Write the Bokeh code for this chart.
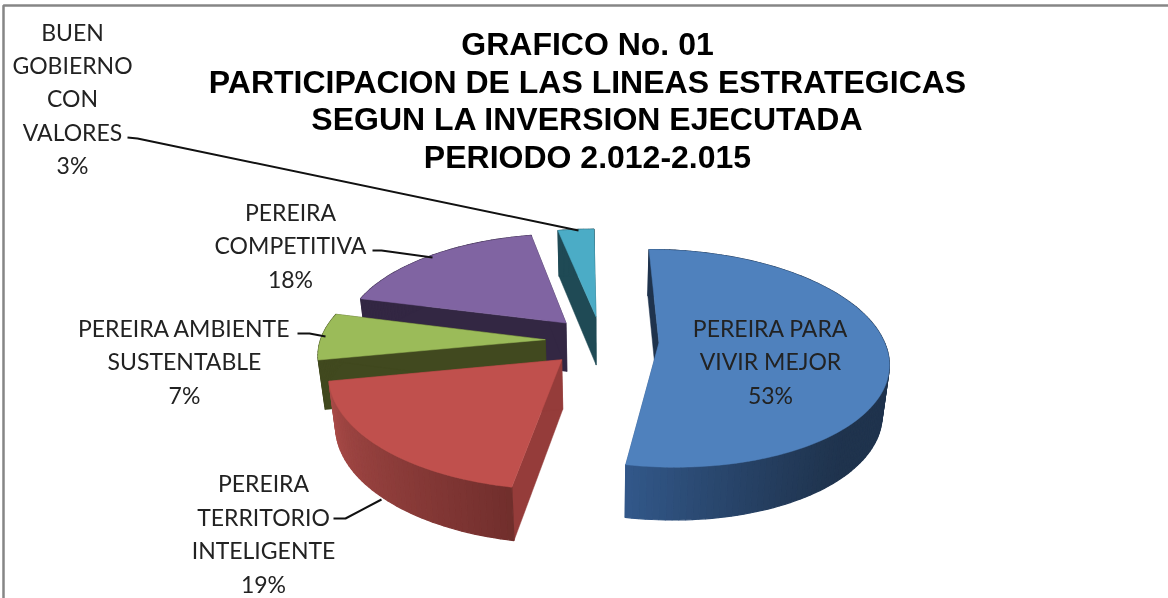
import math
from bokeh.plotting import figure
from bokeh.models import Range1d
from bokeh.core.properties import value
from bokeh.embed import file_html
from bokeh.resources import INLINE

TITLE = "GRAFICO No. 01\nPARTICIPACION DE LAS LINEAS ESTRATEGICAS\nSEGUN LA INVERSION EJECUTADA\nPERIODO 2.012-2.015"
SERIES = ["PEREIRA PARA\nVIVIR MEJOR", "PEREIRA\nTERRITORIO\nINTELIGENTE", "PEREIRA AMBIENTE\nSUSTENTABLE",
          "PEREIRA\nCOMPETITIVA", "BUEN\nGOBIERNO\nCON\nVALORES"]
VALUES = [53, 19, 7, 18, 3]
TOP_COLORS = ["#4f81bd", "#c0504d", "#9bbb59", "#8064a2", "#4bacc6"]
CUT_COLORS = ["#1f334d", "#953c3a", "#41491f", "#332743", "#1f4a55"]

# projection of the tilted pie, in page pixels
CX, CY, R, Q, K, DEPTH = 601, 340, 225, 106, 0.14, 49
EXPLODE = [0.255, 0.25, 0.25, 0.232, 0.232]
LABEL_CENTERS = [(770, 361), (263, 533), (184, 361), (290, 245), (72, 98)]
LEADERS = [None, [(333, 518), (345, 518), (381, 499)], [(297, 333), (309, 333), (325, 336)],
           [(372, 250), (381, 250), (432, 257)], [(127, 137), (137, 138), (578, 230)]]


def project(X, Z):
    s = 1 / (1 + K * Z)
    y = CY - Z * Q * s
    shear = 0.055 if y > CY else 0.03
    return CX + X * R * s + shear * (y - CY), y


def lower(pt):
    x, y = pt
    return CX + (x - CX) * 0.975, y + DEPTH + (y - CY) * 0.03


def mix(c1, c2, t):
    a = [int(c1[i:i + 2], 16) for i in (1, 3, 5)]
    b = [int(c2[i:i + 2], 16) for i in (1, 3, 5)]
    return "#%02x%02x%02x" % tuple(round(a[i] + (b[i] - a[i]) * t) for i in range(3))


def wall_color(i, deg, a0, a1):
    if i == 0:  # dark navy on the right, lighter towards the front left
        t = max(0, min(1, (deg - 135) / (a1 - 135)))
        return mix("#1f334d", "#32588a", t ** 1.4)
    if i == 1:  # dark at the front, lighter to the left
        t = max(0, min(1, (deg - a0) / (a1 - a0)))
        return mix("#702e2c", "#aa4b48", t ** 0.9)
    return CUT_COLORS[i]


p = figure(width=1168, height=598, toolbar_location=None, output_backend="svg",
           x_range=Range1d(0, 1168), y_range=Range1d(598, 0), min_border=0,
           styles={"position": "fixed", "left": "0", "top": "0"})
p.axis.visible = False
p.grid.visible = False
p.outline_line_color = None
p.background_fill_color = "white"

# chart frame
p.line([3, 3, 1168], [598, 5, 5], line_color="#868686", line_width=2.5)

total = sum(VALUES)
angles = []
a = 0.0
for v in VALUES:
    angles.append((a, a + 360 * v / total))
    a += 360 * v / total

for i in [4, 3, 2, 1, 0]:
    a0, a1 = angles[i]
    mid = math.radians((a0 + a1) / 2)
    ox, oz = EXPLODE[i] * math.sin(mid), EXPLODE[i] * math.cos(mid)
    n = max(6, int((a1 - a0) / 1.5))
    degs = [a0 + (a1 - a0) * j / n for j in range(n + 1)]
    rim = [project(ox + math.sin(math.radians(d)), oz + math.cos(math.radians(d))) for d in degs]
    apex = project(ox, oz)
    # cut faces
    for corner, col in ((rim[0], "#1f334d" if i == 0 else CUT_COLORS[i]), (rim[-1], "#32588a" if i == 0 else CUT_COLORS[i])):
        q = [corner, apex, lower(apex), lower(corner)]
        p.patch([c[0] for c in q], [c[1] for c in q], fill_color=col, line_color=col, line_width=0.5)
    # outer wall strips
    xs, ys, cols = [], [], []
    for j in range(n):
        q = [rim[j], rim[j + 1], lower(rim[j + 1]), lower(rim[j])]
        xs.append([c[0] for c in q])
        ys.append([c[1] for c in q])
        cols.append(wall_color(i, (degs[j] + degs[j + 1]) / 2, a0, a1))
    p.patches(xs, ys, fill_color=cols, line_color=cols, line_width=1.2)
    # top face
    p.patch([apex[0]] + [c[0] for c in rim], [apex[1]] + [c[1] for c in rim],
            fill_color=TOP_COLORS[i], line_color=TOP_COLORS[i], line_width=0.5)

for leader in LEADERS:
    if leader:
        p.line([c[0] for c in leader], [c[1] for c in leader], line_color="#111111", line_width=2)

labels = [f"{s}\n{v}%" for s, v in zip(SERIES, VALUES)]
p.text([c[0] for c in LABEL_CENTERS], [c[1] for c in LABEL_CENTERS], text=labels,
       text_font=value("Lato"), text_font_size="23px", text_color="#222222",
       text_align="center", text_baseline="middle", text_line_height=1.195)

p.text([587], [100], text=[TITLE], text_font=value("Liberation Sans"), text_font_style="bold",
       text_font_size="32px", text_color="#000000", text_align="center", text_baseline="middle",
       text_line_height=1.05)

open("out.html", "w").write(file_html(p, INLINE))
